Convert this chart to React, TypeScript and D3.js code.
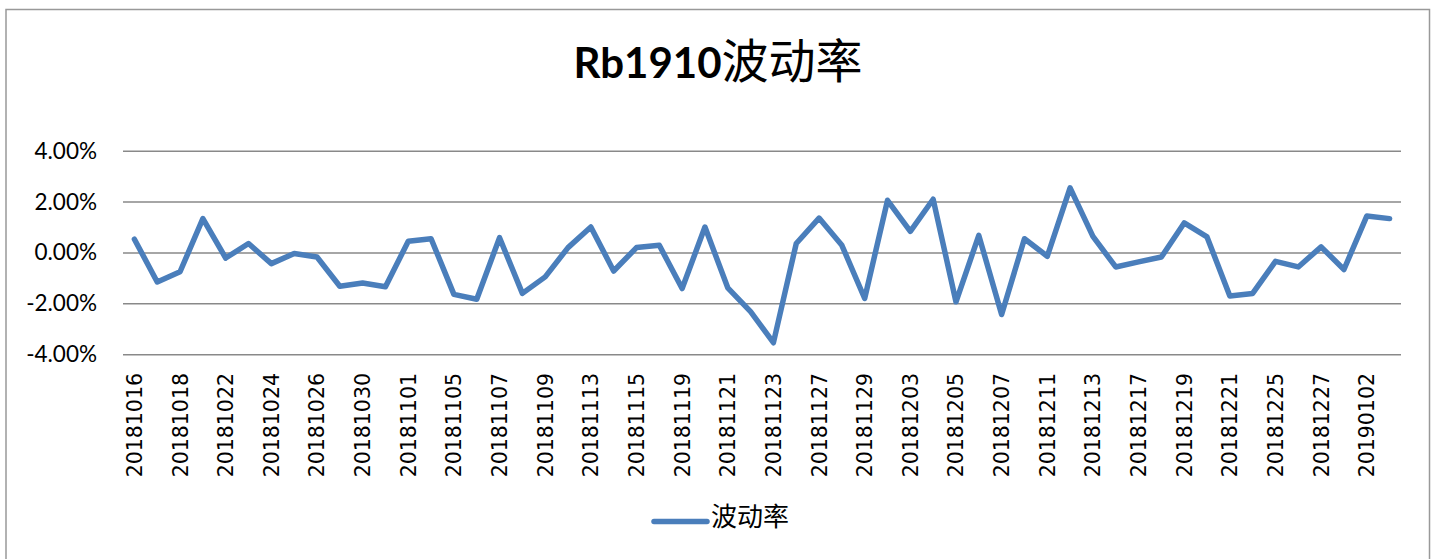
import React, { useRef, useEffect } from "react";
import { select, scaleBand, scaleLinear, line, format } from "d3";

// trading days, every other one is labelled on the axis
const dates = [
  "20181016", "20181017", "20181018", "20181019", "20181022", "20181023",
  "20181024", "20181025", "20181026", "20181029", "20181030", "20181031",
  "20181101", "20181102", "20181105", "20181106", "20181107", "20181108",
  "20181109", "20181112", "20181113", "20181114", "20181115", "20181116",
  "20181119", "20181120", "20181121", "20181122", "20181123", "20181126",
  "20181127", "20181128", "20181129", "20181130", "20181203", "20181204",
  "20181205", "20181206", "20181207", "20181210", "20181211", "20181212",
  "20181213", "20181214", "20181217", "20181218", "20181219", "20181220",
  "20181221", "20181224", "20181225", "20181226", "20181227", "20181228",
  "20190102", "20190103",
];

// 波动率 (in %)
const volatility = [
  0.54, -1.14, -0.74, 1.35, -0.2, 0.37, -0.42, -0.02, -0.16, -1.31,
  -1.18, -1.33, 0.46, 0.56, -1.63, -1.82, 0.6, -1.59, -0.94, 0.21,
  1.02, -0.71, 0.21, 0.3, -1.4, 1.02, -1.37, -2.31, -3.53, 0.37,
  1.37, 0.3, -1.79, 2.07, 0.85, 2.11, -1.92, 0.69, -2.42, 0.56,
  -0.13, 2.56, 0.65, -0.55, -0.35, -0.16, 1.18, 0.63, -1.69, -1.59,
  -0.33, -0.55, 0.24, -0.65, 1.45, 1.35,
];

const yTicks = [-4, -2, 0, 2, 4];

const W = 1437;
const H = 559;
const BLUE = "#4A7EBB";

function App() {
  const svgRef = useRef<SVGSVGElement>(null);

  useEffect(() => {
    const svg = select(svgRef.current);
    svg.selectAll("*").remove();

    // chart frame
    svg
      .append("rect")
      .attr("x", 6)
      .attr("y", 9.5)
      .attr("width", 1423.5)
      .attr("height", 600)
      .attr("fill", "#fff")
      .attr("stroke", "#999")
      .attr("stroke-width", 1.5);

    const xScale = scaleBand<number>()
      .domain(dates.map((d, i) => i))
      .range([123, 1401]);
    const cx = (i: number) => xScale(i)! + xScale.bandwidth() / 2;

    const yScale = scaleLinear().domain([-4, 4]).range([354.7, 151.2]);

    // gridlines
    svg
      .selectAll(".grid")
      .data(yTicks)
      .join("line")
      .attr("class", "grid")
      .attr("x1", 123)
      .attr("x2", 1401)
      .attr("y1", (d) => yScale(d))
      .attr("y2", (d) => yScale(d))
      .attr("stroke", "#898989")
      .attr("stroke-width", 1.5);

    // y labels
    const fmt = format(".2f");
    svg
      .selectAll(".ylab")
      .data(yTicks)
      .join("text")
      .attr("class", "ylab")
      .attr("x", 97)
      .attr("y", (d) => yScale(d) + 7.5)
      .attr("text-anchor", "end")
      .attr("font-family", "Lato, 'Open Sans', sans-serif")
      .attr("font-size", 22.5)
      .attr("fill", "#000")
      .text((d) => (d < 0 ? "-" : "") + fmt(Math.abs(d)) + "%");

    // x labels, rotated
    svg
      .selectAll(".xlab")
      .data(dates.map((d, i) => ({ d, i })).filter((o) => o.i % 2 === 0))
      .join("text")
      .attr("class", "xlab")
      .attr("transform", (o) => `translate(${cx(o.i) + 7.5},373) rotate(-90)`)
      .attr("text-anchor", "end")
      .attr("font-family", "'DejaVu Sans', sans-serif")
      .attr("font-size", 20.5)
      .attr("fill", "#000")
      .text((o) => o.d);

    // the line
    const myLine = line<number>()
      .x((v, i) => cx(i))
      .y((v) => yScale(v));

    svg
      .append("path")
      .datum(volatility)
      .attr("d", myLine)
      .attr("fill", "none")
      .attr("stroke", BLUE)
      .attr("stroke-width", 5.5)
      .attr("stroke-linejoin", "round")
      .attr("stroke-linecap", "round");

    // title
    const title = svg
      .append("text")
      .attr("x", 718)
      .attr("y", 78)
      .attr("text-anchor", "middle")
      .attr("fill", "#000");
    title
      .append("tspan")
      .attr("font-family", "Lato, sans-serif")
      .attr("font-weight", "bold")
      .attr("font-size", 42)
      .text("Rb1910");
    title
      .append("tspan")
      .attr("font-family", "'Noto Sans CJK SC', sans-serif")
      .attr("font-size", 47)
      .text("波动率");

    // legend
    svg
      .append("line")
      .attr("x1", 654)
      .attr("x2", 707)
      .attr("y1", 521.5)
      .attr("y2", 521.5)
      .attr("stroke", BLUE)
      .attr("stroke-width", 5.5)
      .attr("stroke-linecap", "round");
    svg
      .append("text")
      .attr("x", 711)
      .attr("y", 526)
      .attr("font-family", "'Noto Sans CJK SC', sans-serif")
      .attr("font-size", 26)
      .attr("fill", "#000")
      .text("波动率");
  }, []);

  return (
    <svg
      ref={svgRef}
      width={W}
      height={H}
      style={{ position: "absolute", left: 0, top: 0, background: "#fff" }}
    />
  );
}

export default App;
